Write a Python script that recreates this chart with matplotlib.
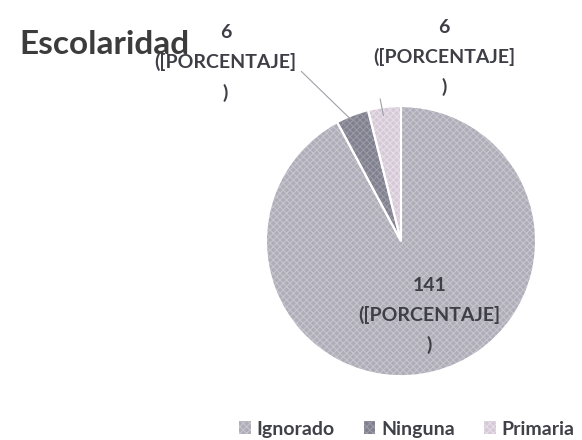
import matplotlib
matplotlib.use("Agg")
import matplotlib.pyplot as plt

categorias = ["Ignorado", "Ninguna", "Primaria"]
valores = [141, 6, 6]
etiquetas = ["141\n([PORCENTAJE]\n)", "6\n([PORCENTAJE]\n)", "6\n([PORCENTAJE]\n)"]
colores = ["#aeadb8", "#80808f", "#d6c9d7"]
colores_trama = ["#c6c5ce", "#9b9ba7", "#e6dde6"]

plt.rcParams["font.family"] = ["Lato", "DejaVu Sans"]
plt.rcParams["hatch.linewidth"] = 0.8

fig = plt.figure(figsize=(5.82, 4.4), dpi=100)
ax = fig.add_axes([0.457, 0.145, 0.464, 0.614])

wedges, _ = ax.pie(valores, colors=colores, startangle=90, counterclock=False)
for w, c in zip(wedges, colores_trama):
    w.set_hatch("xxxxx")
    w.set_edgecolor(c)
    w.set_linewidth(0)
# bordes blancos entre sectores
bordes, _ = ax.pie(valores, startangle=90, counterclock=False,
                   wedgeprops=dict(fill=False, edgecolor="white", linewidth=1.5))
ax.set_xlim(-1, 1)
ax.set_ylim(-1, 1)
ax.set_aspect("equal")

txt = dict(fontsize=14, fontweight="bold", color="#3e3e46", ha="center",
           va="center", linespacing=1.8)
# etiqueta interior
ax.text(0.21, -0.55, etiquetas[0], **txt)
# etiquetas exteriores con lineas guia
ax.annotate(etiquetas[1], xy=(-0.37, 0.90), xytext=(-1.30, 1.32),
            arrowprops=dict(arrowstyle="-", color="#a0a0a8", lw=0.8,
                            shrinkA=2, shrinkB=0, relpos=(1.0, 0.45)),
            annotation_clip=False, **txt)
ax.annotate(etiquetas[2], xy=(-0.13, 0.93), xytext=(0.32, 1.36),
            arrowprops=dict(arrowstyle="-", color="#a0a0a8", lw=0.8,
                            shrinkA=0, shrinkB=0, relpos=(0.0, 0.42)),
            annotation_clip=False, **txt)

fig.text(0.034, 0.9, "Escolaridad", fontsize=24, fontweight="bold",
         color="#3c3c3c", ha="left", va="center", zorder=0)

leg = fig.legend(wedges, categorias, loc="center", bbox_to_anchor=(0.699, 0.025),
                 ncol=3, frameon=False, handlelength=0.6, handleheight=0.6,
                 columnspacing=1.5, handletextpad=0.3,
                 prop=dict(weight="bold", size=14))
for t in leg.get_texts():
    t.set_color("#404048")

fig.savefig("out.png", dpi=100, facecolor="white")
